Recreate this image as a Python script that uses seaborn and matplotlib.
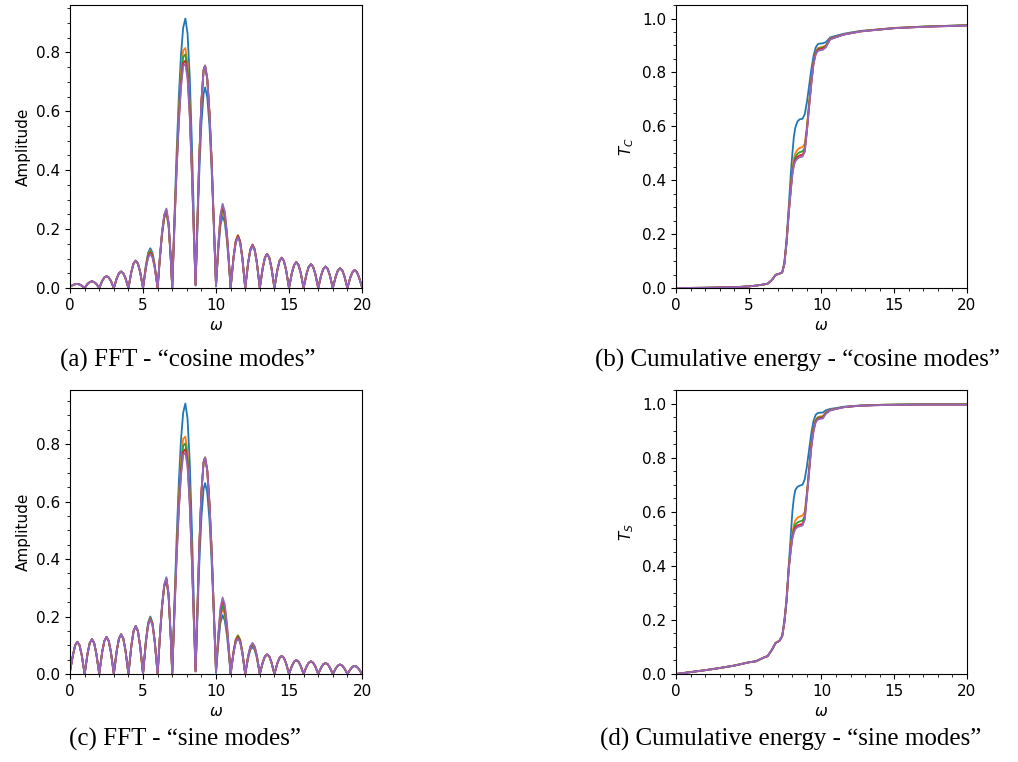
import numpy as np
import pandas as pd
import matplotlib
matplotlib.use("Agg")
import matplotlib.pyplot as plt
from matplotlib.ticker import AutoMinorLocator
import seaborn as sns

# ---- FFT panels: shared omega grid -------------------------------------
omega_fft_lo = [0, 0.2, 0.35, 0.5, 0.65, 0.8, 1, 1.2, 1.35, 1.5, 1.65, 1.8,
                2, 2.2, 2.35, 2.5, 2.65, 2.8, 3, 3.2, 3.35, 3.5, 3.65, 3.8,
                4, 4.2, 4.35, 4.5, 4.65, 4.8]
omega_fft_core = [5, 5.2, 5.35, 5.5, 5.65, 5.8, 6,
                  6.15, 6.3, 6.45, 6.6, 6.75, 6.9, 7,
                  7.15, 7.3, 7.45, 7.6, 7.75, 7.9, 8.05, 8.2, 8.35, 8.5, 8.6,
                  8.7, 8.85, 9, 9.15, 9.25, 9.4, 9.55, 9.7, 9.85, 10,
                  10.15, 10.3, 10.45, 10.6, 10.75, 10.9, 11,
                  11.2, 11.35, 11.5, 11.65, 11.8, 12,
                  12.2, 12.35, 12.5, 12.65, 12.8, 13]
omega_fft_hi = [13.2, 13.35, 13.5, 13.65, 13.8,
                14, 14.2, 14.35, 14.5, 14.65, 14.8,
                15, 15.2, 15.35, 15.5, 15.65, 15.8,
                16, 16.2, 16.35, 16.5, 16.65, 16.8,
                17, 17.2, 17.35, 17.5, 17.65, 17.8,
                18, 18.2, 18.35, 18.5, 18.65, 18.8,
                19, 19.2, 19.35, 19.5, 19.65, 19.8, 20]

# "cosine modes": side lobes where all runs overlap
amp_cos_lo = [0.005, 0.01, 0.013, 0.014, 0.012, 0.008,
              0, 0.014, 0.02, 0.023, 0.02, 0.014,
              0, 0.024, 0.036, 0.04, 0.036, 0.024,
              0, 0.033, 0.05, 0.056, 0.05, 0.033,
              0, 0.055, 0.083, 0.093, 0.083, 0.055]
amp_cos_hi = [0.068, 0.103, 0.116, 0.103, 0.068,
              0, 0.061, 0.092, 0.103, 0.092, 0.061,
              0, 0.052, 0.078, 0.088, 0.078, 0.052,
              0, 0.048, 0.072, 0.081, 0.072, 0.048,
              0, 0.043, 0.065, 0.073, 0.065, 0.043,
              0, 0.039, 0.06, 0.067, 0.06, 0.039,
              0, 0.036, 0.054, 0.061, 0.054, 0.036, 0.003]
# omega 5..13, one list per run
amp_cos_core = [
    [0, 0.079, 0.12, 0.135, 0.12, 0.079, 0,
     0.1, 0.185, 0.242, 0.262, 0.218, 0.1, 0,
     0.237, 0.458, 0.647, 0.792, 0.884, 0.915, 0.864, 0.716, 0.487, 0.204, 0.012,
     0.163, 0.387, 0.56, 0.661, 0.681, 0.648, 0.551, 0.40, 0.21, 0.005,
     0.123, 0.212, 0.245, 0.223, 0.16, 0.069, 0,
     0.103, 0.156, 0.175, 0.156, 0.103, 0,
     0.083, 0.127, 0.142, 0.127, 0.083, 0],
    [0, 0.075, 0.114, 0.128, 0.114, 0.075, 0,
     0.098, 0.18, 0.236, 0.255, 0.212, 0.098, 0,
     0.221, 0.426, 0.598, 0.729, 0.807, 0.815, 0.762, 0.622, 0.41, 0.164, 0.012,
     0.181, 0.438, 0.634, 0.74, 0.755, 0.71, 0.596, 0.43, 0.219, 0.008,
     0.131, 0.227, 0.262, 0.238, 0.172, 0.074, 0,
     0.106, 0.16, 0.18, 0.16, 0.106, 0,
     0.087, 0.132, 0.148, 0.132, 0.087, 0],
    [0, 0.074, 0.111, 0.125, 0.111, 0.074, 0,
     0.099, 0.182, 0.238, 0.258, 0.214, 0.099, 0,
     0.215, 0.414, 0.582, 0.709, 0.785, 0.793, 0.741, 0.606, 0.399, 0.159, 0.01,
     0.181, 0.438, 0.634, 0.74, 0.755, 0.71, 0.596, 0.43, 0.219, 0.01,
     0.135, 0.234, 0.27, 0.245, 0.177, 0.076, 0,
     0.105, 0.159, 0.178, 0.159, 0.105, 0,
     0.086, 0.131, 0.147, 0.131, 0.086, 0],
    [0, 0.071, 0.107, 0.12, 0.107, 0.071, 0,
     0.101, 0.187, 0.245, 0.265, 0.22, 0.101, 0,
     0.21, 0.404, 0.566, 0.691, 0.764, 0.772, 0.722, 0.59, 0.388, 0.155, 0.01,
     0.181, 0.438, 0.634, 0.74, 0.755, 0.71, 0.596, 0.43, 0.219, 0.012,
     0.139, 0.241, 0.278, 0.253, 0.182, 0.078, 0,
     0.104, 0.158, 0.177, 0.158, 0.104, 0,
     0.086, 0.131, 0.147, 0.131, 0.086, 0],
    [0, 0.068, 0.103, 0.116, 0.103, 0.068, 0,
     0.103, 0.191, 0.249, 0.27, 0.224, 0.103, 0,
     0.207, 0.398, 0.558, 0.681, 0.754, 0.761, 0.711, 0.581, 0.383, 0.153, 0.008,
     0.181, 0.438, 0.634, 0.74, 0.755, 0.71, 0.596, 0.43, 0.219, 0.008,
     0.143, 0.248, 0.286, 0.26, 0.187, 0.081, 0,
     0.101, 0.153, 0.172, 0.153, 0.101, 0,
     0.085, 0.129, 0.145, 0.129, 0.085, 0],
]

# "sine modes"
amp_sin_lo = [0.01, 0.066, 0.1, 0.112, 0.1, 0.066,
              0, 0.071, 0.108, 0.121, 0.108, 0.071,
              0, 0.076, 0.115, 0.129, 0.115, 0.076,
              0, 0.081, 0.123, 0.138, 0.123, 0.081,
              0, 0.098, 0.149, 0.167, 0.149, 0.098]
amp_sin_hi = [0.04, 0.061, 0.068, 0.061, 0.04,
              0, 0.037, 0.056, 0.063, 0.056, 0.037,
              0, 0.028, 0.043, 0.048, 0.043, 0.028,
              0, 0.026, 0.039, 0.044, 0.039, 0.026,
              0, 0.022, 0.034, 0.038, 0.034, 0.022,
              0, 0.019, 0.029, 0.033, 0.029, 0.019,
              0, 0.016, 0.025, 0.028, 0.025, 0.016, 0.0]
amp_sin_core = [
    [0, 0.118, 0.178, 0.2, 0.178, 0.118, 0,
     0.126, 0.233, 0.305, 0.33, 0.274, 0.126, 0,
     0.244, 0.471, 0.665, 0.815, 0.909, 0.941, 0.888, 0.736, 0.501, 0.21, 0.01,
     0.159, 0.377, 0.546, 0.645, 0.664, 0.631, 0.537, 0.39, 0.205, 0.003,
     0.103, 0.178, 0.205, 0.186, 0.134, 0.058, 0,
     0.075, 0.114, 0.128, 0.114, 0.075, 0,
     0.055, 0.084, 0.094, 0.084, 0.055, 0],
    [0, 0.115, 0.175, 0.196, 0.175, 0.115, 0,
     0.126, 0.232, 0.303, 0.328, 0.273, 0.126, 0,
     0.224, 0.432, 0.606, 0.739, 0.818, 0.826, 0.772, 0.631, 0.415, 0.166, 0.01,
     0.181, 0.437, 0.633, 0.738, 0.753, 0.708, 0.595, 0.429, 0.218, 0.008,
     0.114, 0.197, 0.228, 0.207, 0.149, 0.064, 0,
     0.079, 0.12, 0.135, 0.12, 0.079, 0,
     0.059, 0.089, 0.1, 0.089, 0.059, 0],
    [0, 0.115, 0.174, 0.195, 0.174, 0.115, 0,
     0.126, 0.233, 0.305, 0.33, 0.274, 0.126, 0,
     0.218, 0.419, 0.588, 0.717, 0.794, 0.802, 0.75, 0.613, 0.403, 0.161, 0.01,
     0.181, 0.437, 0.633, 0.738, 0.753, 0.708, 0.595, 0.429, 0.218, 0.01,
     0.119, 0.205, 0.237, 0.215, 0.155, 0.067, 0,
     0.078, 0.119, 0.133, 0.119, 0.078, 0,
     0.06, 0.091, 0.102, 0.091, 0.06, 0],
    [0, 0.113, 0.172, 0.193, 0.172, 0.113, 0,
     0.127, 0.235, 0.307, 0.332, 0.276, 0.127, 0,
     0.212, 0.409, 0.574, 0.7, 0.774, 0.782, 0.731, 0.597, 0.393, 0.157, 0.01,
     0.181, 0.437, 0.633, 0.738, 0.753, 0.708, 0.595, 0.429, 0.218, 0.012,
     0.128, 0.221, 0.255, 0.232, 0.167, 0.072, 0,
     0.075, 0.114, 0.128, 0.114, 0.075, 0,
     0.062, 0.094, 0.105, 0.094, 0.062, 0],
    [0, 0.112, 0.169, 0.19, 0.169, 0.112, 0,
     0.129, 0.238, 0.311, 0.337, 0.28, 0.129, 0,
     0.209, 0.402, 0.565, 0.689, 0.762, 0.77, 0.72, 0.588, 0.387, 0.155, 0.008,
     0.181, 0.437, 0.633, 0.738, 0.753, 0.708, 0.595, 0.429, 0.218, 0.008,
     0.133, 0.23, 0.266, 0.242, 0.174, 0.075, 0,
     0.072, 0.11, 0.123, 0.11, 0.072, 0,
     0.064, 0.096, 0.108, 0.096, 0.064, 0],
]

# ---- cumulative energy panels -------------------------------------------
omega_cum = [0, 1, 2, 3, 4, 5, 5.5, 6, 6.3, 6.6, 6.85, 7.1, 7.3,
             7.45, 7.6, 7.75, 7.9, 8.0, 8.1, 8.2, 8.35, 8.5, 8.7, 8.85, 9.0,
             9.15, 9.3, 9.45, 9.6, 9.75, 9.9, 10.1, 10.3, 10.6, 11.0, 11.5,
             12.0, 12.7, 14, 15, 17, 20]

tc_start = [0, 0.0005, 0.001, 0.002, 0.003, 0.006, 0.009, 0.013, 0.016,
            0.03, 0.049, 0.053, 0.058]
tc_runs = [
    [0.095, 0.18, 0.3, 0.43, 0.5, 0.56, 0.595, 0.618, 0.626, 0.628, 0.645, 0.69,
     0.75, 0.81, 0.86, 0.892, 0.905, 0.907, 0.908, 0.912, 0.93, 0.936, 0.943,
     0.948, 0.954, 0.96, 0.965, 0.97, 0.975],
    [0.09, 0.17, 0.28, 0.38, 0.44, 0.48, 0.5, 0.513, 0.52, 0.523, 0.535, 0.6,
     0.69, 0.77, 0.84, 0.875, 0.89, 0.893, 0.895, 0.9, 0.926, 0.932, 0.941,
     0.946, 0.953, 0.96, 0.965, 0.97, 0.975],
    [0.09, 0.17, 0.28, 0.375, 0.43, 0.465, 0.485, 0.498, 0.504, 0.507, 0.52, 0.59,
     0.68, 0.765, 0.835, 0.872, 0.887, 0.89, 0.892, 0.898, 0.925, 0.931, 0.94,
     0.946, 0.953, 0.959, 0.964, 0.97, 0.975],
    [0.09, 0.17, 0.28, 0.37, 0.425, 0.458, 0.476, 0.487, 0.492, 0.495, 0.51, 0.585,
     0.675, 0.76, 0.832, 0.87, 0.884, 0.887, 0.889, 0.896, 0.924, 0.931, 0.94,
     0.945, 0.952, 0.959, 0.964, 0.969, 0.974],
    [0.088, 0.165, 0.275, 0.365, 0.42, 0.455, 0.47, 0.48, 0.485, 0.488, 0.505, 0.58,
     0.67, 0.755, 0.83, 0.866, 0.88, 0.882, 0.884, 0.893, 0.922, 0.93, 0.94,
     0.945, 0.952, 0.959, 0.964, 0.969, 0.974],
]

ts_start = [0, 0.007, 0.014, 0.022, 0.031, 0.043, 0.047, 0.06, 0.066,
            0.09, 0.115, 0.122, 0.14]
ts_runs = [
    [0.2, 0.28, 0.4, 0.52, 0.6, 0.65, 0.68, 0.692, 0.696, 0.7, 0.72, 0.768,
     0.83, 0.89, 0.935, 0.958, 0.965, 0.966, 0.967, 0.975, 0.98, 0.983, 0.988,
     0.99, 0.993, 0.995, 0.996, 0.997, 0.997],
    [0.19, 0.27, 0.39, 0.48, 0.52, 0.55, 0.567, 0.578, 0.582, 0.586, 0.6, 0.67,
     0.76, 0.85, 0.91, 0.94, 0.95, 0.952, 0.954, 0.968, 0.977, 0.981, 0.987,
     0.989, 0.992, 0.995, 0.996, 0.997, 0.997],
    [0.19, 0.27, 0.39, 0.47, 0.51, 0.535, 0.552, 0.56, 0.564, 0.567, 0.585, 0.665,
     0.755, 0.845, 0.905, 0.937, 0.947, 0.949, 0.951, 0.966, 0.976, 0.981, 0.987,
     0.989, 0.992, 0.995, 0.996, 0.997, 0.997],
    [0.19, 0.27, 0.39, 0.465, 0.505, 0.528, 0.542, 0.549, 0.552, 0.555, 0.575, 0.66,
     0.75, 0.84, 0.9, 0.934, 0.944, 0.946, 0.948, 0.964, 0.975, 0.98, 0.986,
     0.989, 0.992, 0.994, 0.995, 0.996, 0.996],
    [0.19, 0.27, 0.385, 0.46, 0.5, 0.522, 0.536, 0.543, 0.546, 0.549, 0.57, 0.655,
     0.745, 0.835, 0.895, 0.93, 0.941, 0.943, 0.945, 0.962, 0.974, 0.98, 0.986,
     0.989, 0.992, 0.994, 0.995, 0.996, 0.996],
]

colors = ['#1f77b4', '#ff7f0e', '#2ca02c', '#d62728', '#9467bd']
captions = ['(a) FFT - \u201ccosine modes\u201d',
            '(b) Cumulative energy - \u201ccosine modes\u201d',
            '(c) FFT - \u201csine modes\u201d',
            '(d) Cumulative energy - \u201csine modes\u201d']


def long_df(omega, runs):
    rows = {"omega": [], "value": [], "run": []}
    for i, vals in enumerate(runs):
        rows["omega"] += list(omega)
        rows["value"] += list(vals)
        rows["run"] += [i] * len(vals)
    return pd.DataFrame(rows)


omega_fft = omega_fft_lo + omega_fft_core + omega_fft_hi
df_a = long_df(omega_fft, [amp_cos_lo + c + amp_cos_hi for c in amp_cos_core])
df_c = long_df(omega_fft, [amp_sin_lo + c + amp_sin_hi for c in amp_sin_core])
df_b = long_df(omega_cum, [tc_start + r for r in tc_runs])
df_d = long_df(omega_cum, [ts_start + r for r in ts_runs])

sns.set_style("ticks")
plt.rcParams['font.family'] = ['DejaVu Sans']
plt.rcParams['xtick.labelsize'] = 11
plt.rcParams['ytick.labelsize'] = 11
plt.rcParams['axes.labelsize'] = 11
plt.rcParams['axes.edgecolor'] = 'black'
plt.rcParams['axes.labelcolor'] = 'black'
plt.rcParams['text.color'] = 'black'
plt.rcParams['xtick.color'] = 'black'
plt.rcParams['ytick.color'] = 'black'

fig = plt.figure(figsize=(10.18, 7.62), dpi=100)
pos = [[0.0688, 0.622, 0.2868, 0.3714],
       [0.664, 0.622, 0.2859, 0.3714],
       [0.0688, 0.1155, 0.2868, 0.3727],
       [0.664, 0.1155, 0.2859, 0.3727]]
frames = [df_a, df_b, df_c, df_d]
ylabels = ['Amplitude', '$T_C$', 'Amplitude', '$T_S$']

for k in range(4):
    ax = fig.add_axes(pos[k])
    sns.lineplot(data=frames[k], x="omega", y="value", hue="run",
                 palette=colors, legend=False, lw=1.3, errorbar=None, ax=ax)
    ax.set_xlim(0, 20)
    if k in (0, 2):
        ax.set_ylim(bottom=0)
    else:
        ax.set_ylim(0, 1.05)
    ax.set_xticks([0, 5, 10, 15, 20])
    ax.xaxis.set_minor_locator(AutoMinorLocator())
    ax.yaxis.set_minor_locator(AutoMinorLocator())
    ax.set_xlabel(r'$\omega$')
    ax.set_ylabel(ylabels[k])

cap_xy = [(0.184, 0.527), (0.783, 0.527), (0.182, 0.029), (0.777, 0.029)]
for (x, y), txt in zip(cap_xy, captions):
    fig.text(x, y, txt, ha='center', va='center', fontsize=18,
             family='Liberation Serif')

fig.savefig("out.png", dpi=100)
